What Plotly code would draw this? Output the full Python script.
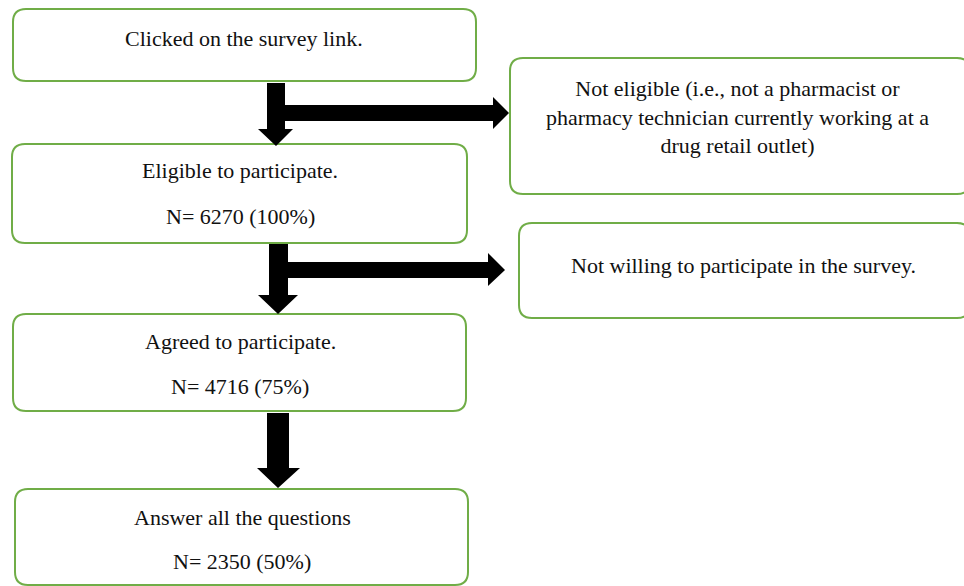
import plotly.graph_objects as go

# ---- data ----
main_stages = ["Clicked on the survey link.", "Eligible to participate.",
               "Agreed to participate.", "Answer all the questions"]
main_counts = [None, 6270, 4716, 2350]
main_pcts = [None, 100, 75, 50]
side_labels = ["Not eligible (i.e., not a pharmacist or<br>pharmacy technician currently working at a<br>drug retail outlet)",
               "Not willing to participate in the survey."]

# ---- layout geometry (pixels) ----
W, H = 964, 586
GREEN = "#70AD47"
FONT = "Liberation Serif, Times New Roman, serif"
FS = 22

main_boxes = [(13, 9, 476, 81), (12, 144, 467, 243), (13, 314, 466, 411), (15, 489, 468, 585)]
side_boxes = [(510, 58, 970, 194), (519, 223, 970, 318)]
R = 13

def rrect(x0, y0, x1, y1, r=R):
    return (f"M {x0+r},{y0} L {x1-r},{y0} Q {x1},{y0} {x1},{y0+r} "
            f"L {x1},{y1-r} Q {x1},{y1} {x1-r},{y1} L {x0+r},{y1} "
            f"Q {x0},{y1} {x0},{y1-r} L {x0},{y0+r} Q {x0},{y0} {x0+r},{y0} Z")

def down_arrow(sx0, sx1, ytop, yneck, hx0, hx1, tipx, tipy):
    return (f"M {sx0},{ytop} L {sx1},{ytop} L {sx1},{yneck} L {hx1},{yneck} "
            f"L {tipx},{tipy} L {hx0},{yneck} L {sx0},{yneck} Z")

def right_arrow(x0, xneck, sy0, sy1, hy0, hy1, tipx, tipy):
    return (f"M {x0},{sy0} L {xneck},{sy0} L {xneck},{hy0} L {tipx},{tipy} "
            f"L {xneck},{hy1} L {xneck},{sy1} L {x0},{sy1} Z")

shapes = []
for b in main_boxes + side_boxes:
    shapes.append(dict(type="path", path=rrect(*b), line=dict(color=GREEN, width=2),
                       fillcolor="white", layer="below"))

arrows = [
    down_arrow(267, 285, 83, 129, 258, 293, 276, 146),
    right_arrow(285, 493, 105, 121, 97, 129, 509, 113),
    down_arrow(269, 288, 244, 295, 258, 298, 278, 314),
    right_arrow(287, 488, 262, 278, 253, 286, 505, 270),
    down_arrow(267, 289, 413, 468, 257, 300, 278, 488),
]
for p in arrows:
    shapes.append(dict(type="path", path=p, fillcolor="black", line=dict(color="black", width=0)))

annotations = []
def txt(x, y, t):
    annotations.append(dict(x=x, y=y, text=t, showarrow=False, xanchor="center", yanchor="middle",
                            font=dict(family=FONT, size=FS, color="#111")))

title_y = [38, 170, 341, 517]
n_y = [None, 216, 386, 561]
centers = [244, 240, 240, 242]
for i, s in enumerate(main_stages):
    txt(centers[i], title_y[i], s)
    if main_counts[i] is not None:
        txt(centers[i], n_y[i], f"N= {main_counts[i]} ({main_pcts[i]}%)")

annotations.append(dict(x=737, y=117, text=side_labels[0], showarrow=False, xanchor="center",
                        yanchor="middle", align="center",
                        font=dict(family=FONT, size=FS, color="#111")))
txt(743, 265, side_labels[1])

fig = go.Figure()
fig.update_layout(
    width=W, height=H, margin=dict(l=0, r=0, t=0, b=0),
    paper_bgcolor="white", plot_bgcolor="white",
    xaxis=dict(range=[0, W], visible=False, fixedrange=True),
    yaxis=dict(range=[H, 0], visible=False, fixedrange=True),
    shapes=shapes, annotations=annotations, showlegend=False,
)
fig.write_html("out.html", config={"displayModeBar": False},
               post_script="document.body.style.margin='0';document.body.style.overflow='hidden';")
